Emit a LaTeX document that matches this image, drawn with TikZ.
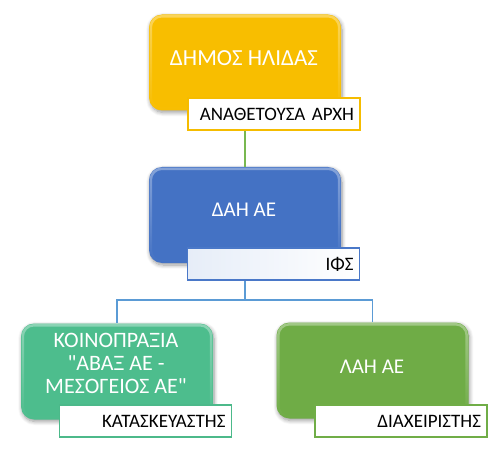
\documentclass[tikz,border=0pt]{standalone}
\usepackage{fontspec}
\newfontfamily\carl{Carlito}
\usetikzlibrary{shadows.blur,fadings}
\definecolor{goldbase}{HTML}{F8BE00}
\definecolor{goldline}{HTML}{F5BC00}
\definecolor{bluebase}{HTML}{4472C4}
\definecolor{blueline}{HTML}{4A78C8}
\definecolor{tealbase}{HTML}{4DBD8D}
\definecolor{tealline}{HTML}{4CB98A}
\definecolor{greenbase}{HTML}{6FAC46}
\definecolor{greenline}{HTML}{70AD47}
\definecolor{conngreen}{HTML}{78B850}
\definecolor{connblue}{HTML}{5B9BD5}
\definecolor{labeltint}{HTML}{E6EDF8}
\tikzfading[name=bevelfade, top color=transparent!0, bottom color=transparent!100]
\tikzset{
  mainbox/.style={rectangle, rounded corners=13pt, minimum width=192pt, minimum height=96pt,
    blur shadow={shadow blur steps=8, shadow blur radius=4pt, shadow xshift=1pt, shadow yshift=-2pt, shadow opacity=40}},
  bevel/.style={draw=white, draw opacity=0.35, line width=2.5pt, rounded corners=11pt, path fading=bevelfade},
  maintext/.style={text=white, font=\carl\fontsize{21}{23}\selectfont, align=center, inner sep=0pt},
  labelbox/.style={rectangle, draw, line width=1.3pt, minimum width=172pt, minimum height=32pt,
    text width=160pt, align=right, inner xsep=6pt, inner ysep=0pt, text=black,
    font=\carl\fontsize{19}{22}\selectfont},
  conn/.style={line width=1.2pt}
}
\begin{document}
\begin{tikzpicture}[x=1pt,y=-1pt]
\useasboundingbox (0,0) rectangle (500,449);
% main boxes
\node[mainbox, fill=goldbase] (dimos) at (245,62.5) {};
\node[mainbox, fill=bluebase] (dah) at (245,215) {};
\node[mainbox, fill=tealbase] (koin) at (117,371.5) {};
\node[mainbox, fill=greenbase] (lah) at (372.5,370.5) {};
% bevels
\foreach \b in {dimos,dah,koin,lah}{
  \path[bevel] ([shift={(2,2)}]\b.north west) rectangle ([shift={(-2,-2)}]\b.south east);
}
% connectors
\coordinate (branch) at (245,300);
\draw[conn, conngreen] (dimos.south) -- (dah.north);
\draw[conn, connblue] (dah.south) -- (branch) -| (koin.north);
\draw[conn, connblue] (branch) -| (lah.north);
% texts
\node[maintext, font=\carl\fontsize{23}{25}\selectfont] (dimost) at (244,58) {ΔΗΜΟΣ ΗΛΙΔΑΣ};
\node[maintext] (daht) at (244,210) {ΔΑΗ ΑΕ};
\node[maintext, font=\carl\fontsize{22}{23}\selectfont] (koint) at (116,363) {ΚΟΙΝΟΠΡΑΞΙΑ\\"ΑΒΑΞ ΑΕ -\\ΜΕΣΟΓΕΙΟΣ ΑΕ"};
\node[maintext] (laht) at (372,367) {ΛΑΗ ΑΕ};
% labels
\node[labelbox, draw=goldline, fill=white] (dimosl) at (274,114) {ΑΝΑΘΕΤΟΥΣΑ ΑΡΧΗ};
\node[labelbox, draw=blueline, left color=labeltint, right color=white] (dahl) at (273.5,264) {ΙΦΣ};
\node[labelbox, draw=tealline, fill=white] (koinl) at (145.5,421) {ΚΑΤΑΣΚΕΥΑΣΤΗΣ};
\node[labelbox, draw=greenline, fill=white] (lahl) at (401,421) {ΔΙΑΧΕΙΡΙΣΤΗΣ};
\end{tikzpicture}
\end{document}
